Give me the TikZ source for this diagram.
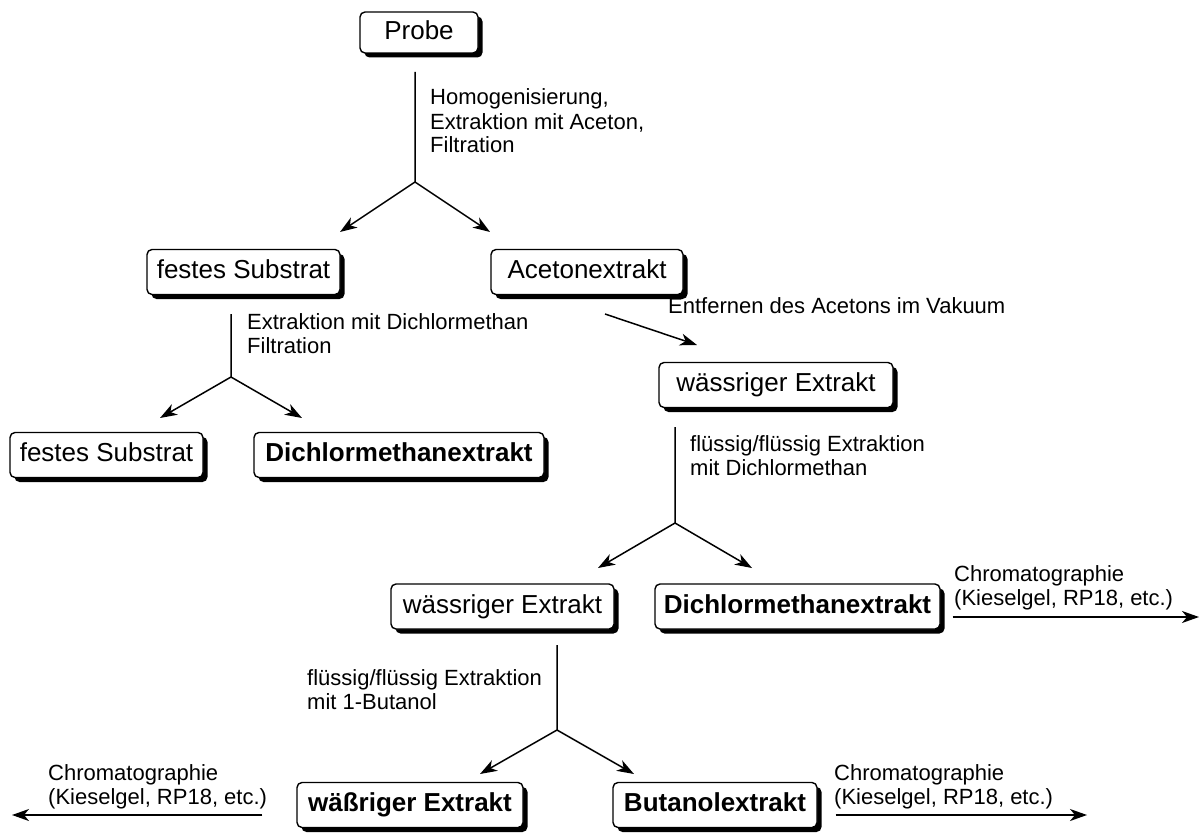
\documentclass[tikz,border=0pt]{standalone}
\usepackage{fontspec}
\setmainfont{Liberation Sans}
\usetikzlibrary{arrows.meta,shadows}

\begin{document}
\begin{tikzpicture}[x=1pt,y=-1pt,>={Stealth[length=17pt,width=12pt,inset=5pt]},line join=round,
	box/.style={draw,line width=1.4pt,fill=white,rounded corners=5pt,minimum height=45pt,inner sep=0pt,
		text height=19pt,text depth=5.5pt,font=\fontsize{26}{30}\selectfont,
		drop shadow={shadow xshift=4.5pt,shadow yshift=-4.5pt,opacity=1,fill=black}},
	bbox/.style={box,font=\fontsize{26}{30}\selectfont\bfseries},
	lbl/.style={anchor=base west,align=left,inner sep=0pt,font=\fontsize{22}{24}\selectfont},
	conn/.style={line width=1.5pt}]
		\useasboundingbox (0,0) rectangle (1201,832);
		% boxes
		\node[box,minimum width=118pt,minimum height=41pt] (probe) at (419,32.5) {Probe};
		\node[box,minimum width=193pt] (fs) at (243.5,272) {festes Substrat};
		\node[box,minimum width=192pt] (aceton) at (587,272) {Acetonextrakt};
		\node[box,minimum width=234pt] (wex) at (776,385) {wässriger Extrakt};
		\node[box,minimum width=193pt] (fsrest) at (106.5,455) {festes Substrat};
		\node[bbox,minimum width=290pt] (dcm) at (399,455) {Dichlormethanextrakt};
		\node[box,minimum width=223pt] (wexrest) at (502.5,606.5) {wässriger Extrakt};
		\node[bbox,minimum width=285pt] (dcmfl) at (797.5,606.5) {Dichlormethanextrakt};
		\node[bbox,minimum width=226pt] (wexbut) at (410,805) {wäßriger Extrakt};
		\node[bbox,minimum width=204pt] (but) at (715,805) {Butanolextrakt};
		% fork points
		\coordinate (s1) at (415,72);   \coordinate (j1) at (415,182);
		\coordinate (t1l) at (340,232); \coordinate (t1r) at (490,232);
		\coordinate (s2) at (231,314);  \coordinate (j2) at (231,377);
		\coordinate (t2l) at (160,418); \coordinate (t2r) at (302,418);
		\coordinate (s3) at (675,427);  \coordinate (j3) at (675,523);
		\coordinate (t3l) at (598,568); \coordinate (t3r) at (752,568);
		\coordinate (s4) at (557,645);  \coordinate (j4) at (557,730);
		\coordinate (t4l) at (480,774); \coordinate (t4r) at (634,774);
		\coordinate (d1) at (605,314);  \coordinate (d2) at (697,345);
		\coordinate (c1) at (1199,617); \coordinate (c2) at (1087,815); \coordinate (c3) at (12,815);
		% connectors
		\draw[conn,->] (s1)--(j1)--(t1l);  \draw[conn,->] (j1)--(t1r);
		\draw[conn,->] (s2)--(j2)--(t2l);  \draw[conn,->] (j2)--(t2r);
		\draw[conn,->] (s3)--(j3)--(t3l);  \draw[conn,->] (j3)--(t3r);
		\draw[conn,->] (s4)--(j4)--(t4l);  \draw[conn,->] (j4)--(t4r);
		\draw[conn,->] (d1)--(d2);
		\draw[conn,->] (dcmfl.east|-c1) ++(12,0) coordinate (c1s) (c1s)--(c1);
		\draw[conn,->] (but.east|-c2) ++(18,0) coordinate (c2s) (c2s)--(c2);
		\draw[conn,->] (wexbut.west|-c3) ++(-34,0) coordinate (c3s) (c3s)--(c3);
		% labels (base = last line)
		\node[lbl] (l1) at (430,153) {Homogenisierung,\\Extraktion mit Aceton,\\Filtration};
		\node[lbl] (l2) at (247,353) {Extraktion mit Dichlormethan\\Filtration};
		\node[lbl] (l3) at (668,313) {Entfernen des Acetons im Vakuum};
		\node[lbl] (l4) at (690,475) {flüssig/flüssig Extraktion\\mit Dichlormethan};
		\node[lbl] (l5) at (307,709) {flüssig/flüssig Extraktion\\mit 1-Butanol};
		\node[lbl] (l6) at (954,605) {Chromatographie\\(Kieselgel, RP18, etc.)};
		\node[lbl] (l7) at (834,804) {Chromatographie\\(Kieselgel, RP18, etc.)};
		\node[lbl] (l8) at (48,804) {Chromatographie\\(Kieselgel, RP18, etc.)};
\end{tikzpicture}
\end{document}
